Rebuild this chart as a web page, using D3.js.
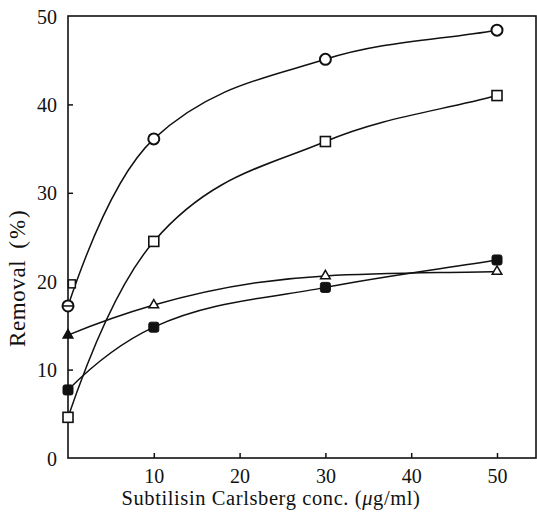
<!DOCTYPE html>
<html>
<head>
<meta charset="utf-8">
<script src="https://cdn.jsdelivr.net/npm/d3@7"></script>
<style>
  body { margin: 0; background: #fff; }
  text { font-family: "Liberation Serif", "DejaVu Serif", serif; fill: #111; }
</style>
</head>
<body>
<svg id="chart" width="537" height="513"></svg>
<script>
// data
var conc = [0, 10, 30, 50];
var openCircle = [17.2, 36.1, 45.1, 48.4];
var openSquare = [4.6, 24.5, 35.8, 41.0];
var openTriangle = [13.9, 17.3, 20.6, 21.1];
var filledSquare = [7.7, 14.8, 19.3, 22.4];
var xTicks = [10, 20, 30, 40, 50];
var yTicks = [0, 10, 20, 30, 40, 50];

var svg = d3.select("#chart");
var ink = "#111";

//scales
var x = d3.scaleLinear().domain([0, 50]).range([68, 497]);
var y = d3.scaleLinear().domain([0, 50]).range([458, 16]);

//frame
svg.append("rect")
    .attr("x", x(0)).attr("y", y(50))
    .attr("width", 536 - x(0)).attr("height", y(0) - y(50))
    .attr("fill", "none").attr("stroke", ink).attr("stroke-width", 1.6);

//axes with inward ticks
var xAxis = svg.append("g").attr("transform", "translate(0," + y(0) + ")")
    .call(d3.axisBottom(x).tickValues(xTicks).tickSize(-5).tickPadding(11));
var yAxis = svg.append("g").attr("transform", "translate(" + x(0) + ",0)")
    .call(d3.axisLeft(y).tickValues(yTicks).tickSize(-5).tickPadding(11));
[xAxis, yAxis].forEach(function(g){
    g.select(".domain").remove();
    g.selectAll(".tick line").attr("stroke", ink).attr("stroke-width", 1.5);
    g.selectAll(".tick text").style("font-size", "20px").attr("fill", ink)
        .style("font-family", "Liberation Serif, serif");
});
yAxis.selectAll(".tick").filter(function(d){ return d == 0 || d == 50; }).select("line").remove();
yAxis.selectAll(".tick text").attr("dy", "0.35em");

//axis titles
svg.append("text").attr("x", 271).attr("y", 505)
    .attr("text-anchor", "middle").style("font-size", "20.5px").style("letter-spacing", "0.6px")
    .html("Subtilisin Carlsberg conc. (<tspan font-style='italic'>μ</tspan>g/ml)");
var ylab = svg.append("text")
    .attr("transform", "translate(25,0) rotate(-90)")
    .attr("x", -347).attr("text-anchor", "start").style("font-size", "23px");
ylab.append("tspan").style("letter-spacing", "0.6px").text("Removal");
ylab.append("tspan").attr("dx", 11).style("letter-spacing", "2px").text("(%)");

//smooth curve: monotone tangents inside, extrapolated tangent at the start
function curvePath(xs, ys){
    var n = xs.length, s = [], h = [], t = [];
    for (var i = 0; i < n - 1; i++){
        h.push(xs[i + 1] - xs[i]);
        s.push((ys[i + 1] - ys[i]) / h[i]);
    }
    for (var i = 1; i < n - 1; i++){
        var p = (s[i - 1] * h[i] + s[i] * h[i - 1]) / (h[i - 1] + h[i]);
        t[i] = (Math.sign(s[i - 1]) + Math.sign(s[i])) *
            Math.min(Math.abs(s[i - 1]), Math.abs(s[i]), 0.5 * Math.abs(p));
    }
    t[0] = 2 * s[0] - t[1];
    t[n - 1] = s[n - 2];
    var path = d3.path();
    path.moveTo(x(xs[0]), y(ys[0]));
    for (var i = 0; i < n - 1; i++){
        var d = h[i] / 3;
        path.bezierCurveTo(
            x(xs[i] + d), y(ys[i] + t[i] * d),
            x(xs[i + 1] - d), y(ys[i + 1] - t[i + 1] * d),
            x(xs[i + 1]), y(ys[i + 1]));
    }
    return path.toString();
}

var series = [openCircle, openSquare, openTriangle, filledSquare];
series.forEach(function(s){
    svg.append("path")
        .attr("d", curvePath(conc, s))
        .attr("fill", "none").attr("stroke", ink).attr("stroke-width", 1.5);
});

//markers
var pts = function(s){ return conc.map(function(c, i){ return [c, s[i]]; }); };

svg.selectAll(".oc").data(pts(openCircle)).enter().append("circle")
    .attr("cx", function(d){ return x(d[0]); }).attr("cy", function(d){ return y(d[1]); })
    .attr("r", 5.5).attr("fill", "#fff").attr("stroke", ink).attr("stroke-width", 2);
//crossed circle at zero
svg.append("line").attr("x1", x(0) - 6).attr("x2", x(0) + 6)
    .attr("y1", y(openCircle[0])).attr("y2", y(openCircle[0]))
    .attr("stroke", ink).attr("stroke-width", 1.5);

svg.selectAll(".os").data(pts(openSquare)).enter().append("rect")
    .attr("x", function(d){ return x(d[0]) - 5; }).attr("y", function(d){ return y(d[1]) - 5; })
    .attr("width", 10).attr("height", 10)
    .attr("fill", "#fff").attr("stroke", ink).attr("stroke-width", 1.6);
//stray open marker near 20 at zero
svg.append("rect").attr("x", x(0.45) - 3.5).attr("y", y(19.7) - 4).attr("width", 7).attr("height", 8)
    .attr("fill", "#fff").attr("stroke", ink).attr("stroke-width", 1.5);

var tri = d3.symbol().type(d3.symbolTriangle).size(40);
svg.selectAll(".ot").data(pts(openTriangle)).enter().append("path")
    .attr("d", tri)
    .attr("transform", function(d){ return "translate(" + x(d[0]) + "," + y(d[1]) + ")"; })
    .attr("fill", function(d){ return d[0] == 0 ? ink : "#fff"; })
    .attr("stroke", ink).attr("stroke-width", 1.5);

svg.selectAll(".fs").data(pts(filledSquare)).enter().append("rect")
    .attr("x", function(d){ return x(d[0]) - 5; }).attr("y", function(d){ return y(d[1]) - 5; })
    .attr("width", 10).attr("height", 10).attr("rx", 2)
    .attr("fill", ink).attr("stroke", ink).attr("stroke-width", 1);
</script>
</body>
</html>
